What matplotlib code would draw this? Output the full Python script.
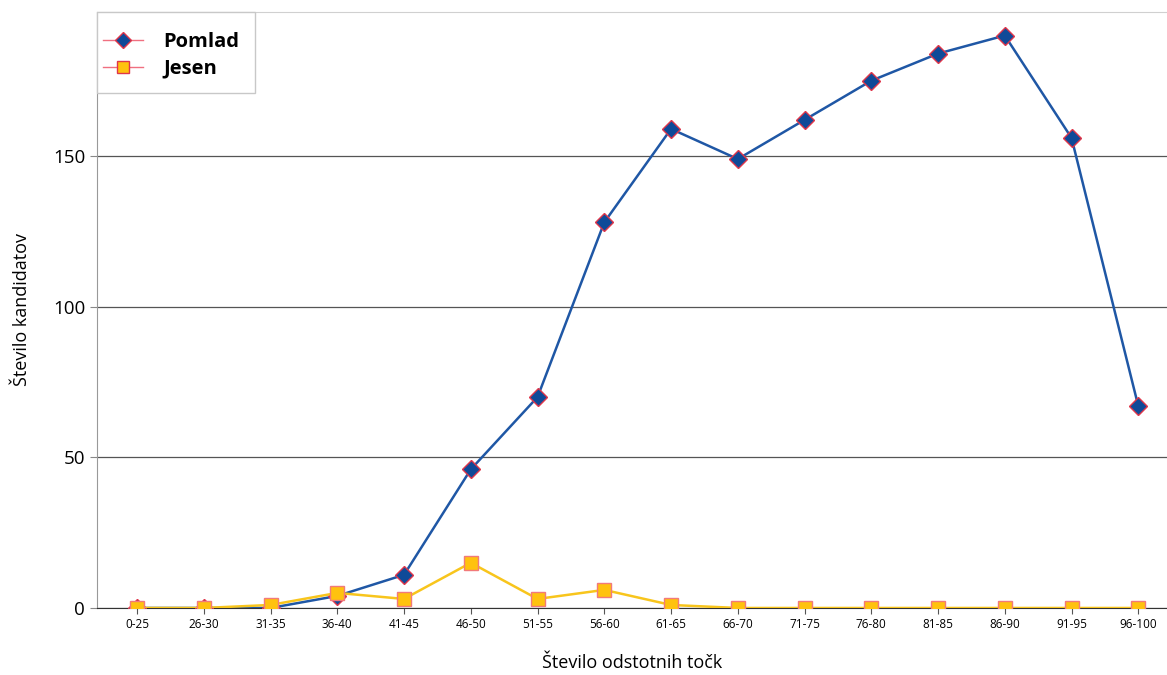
import matplotlib
matplotlib.use('Agg')
import matplotlib.pyplot as plt
from matplotlib.lines import Line2D
from matplotlib.patches import Rectangle

plt.rcParams['font.family'] = ['Open Sans', 'DejaVu Sans']

categories = ['0-25', '26-30', '31-35', '36-40', '41-45', '46-50', '51-55', '56-60',
              '61-65', '66-70', '71-75', '76-80', '81-85', '86-90', '91-95', '96-100']
pomlad = [0, 0, 0, 4, 11, 46, 70, 128, 159, 149, 162, 175, 184, 190, 156, 67]
jesen = [0, 0, 1, 5, 3, 15, 3, 6, 1, 0, 0, 0, 0, 0, 0, 0]

fig = plt.figure(figsize=(11.67, 6.75), dpi=100)
ax = fig.add_axes([0.0831, 0.0993, 0.9169, 0.8829])

x = range(len(categories))
ax.plot(x, pomlad, color='#1f57a5', lw=1.8, marker='D', ms=9.5,
        mfc='#0f4a98', mec='#e0364a', mew=1, zorder=3)
ax.plot(x, jesen, color='#f8c51c', lw=1.8, marker='s', ms=9.5,
        mfc='#ffc20e', mec='#f27a7a', mew=1, zorder=4)

ax.set_xlim(-0.6, 15.43)
ax.set_ylim(0, 197.8)
ax.set_yticks([0, 50, 100, 150])
ax.set_xticks(list(x))
ax.set_xticklabels(categories, fontsize=8.5)
ax.tick_params(axis='y', labelsize=13.5, length=5, color='#888888')
ax.tick_params(axis='x', length=4, color='#555555')
ax.yaxis.grid(True, color='#555555', lw=0.9)
ax.set_axisbelow(True)

ax.spines['right'].set_visible(False)
ax.spines['top'].set_color('#d0d0d0')
ax.spines['left'].set_color('#999999')
ax.spines['bottom'].set_color('#333333')

ax.set_xlabel('Število odstotnih točk', fontsize=13, labelpad=16)
ax.set_ylabel('Število kandidatov', fontsize=13, labelpad=16)

# legend box
ax.add_patch(Rectangle((0, 1 - 0.136), 0.1477, 0.136, transform=ax.transAxes,
                       facecolor='white', edgecolor='#c8c8c8', lw=1, zorder=5,
                       clip_on=False))
handles = [
    Line2D([], [], color='#f07080', lw=1, marker='D', ms=8.5, mfc='#0f4a98', mec='#e0364a'),
    Line2D([], [], color='#f07080', lw=1, marker='s', ms=8.5, mfc='#ffc20e', mec='#e0364a'),
]
leg = ax.legend(handles, ['Pomlad', 'Jesen'], loc='upper left', bbox_to_anchor=(0.0, 0.977),
                prop={'weight': 'bold', 'size': 14.5}, frameon=False,
                borderaxespad=0, handlelength=2.0, handletextpad=1.0,
                borderpad=0.3, labelspacing=0.35)
leg.set_zorder(6)

fig.savefig('out.png', dpi=100)
